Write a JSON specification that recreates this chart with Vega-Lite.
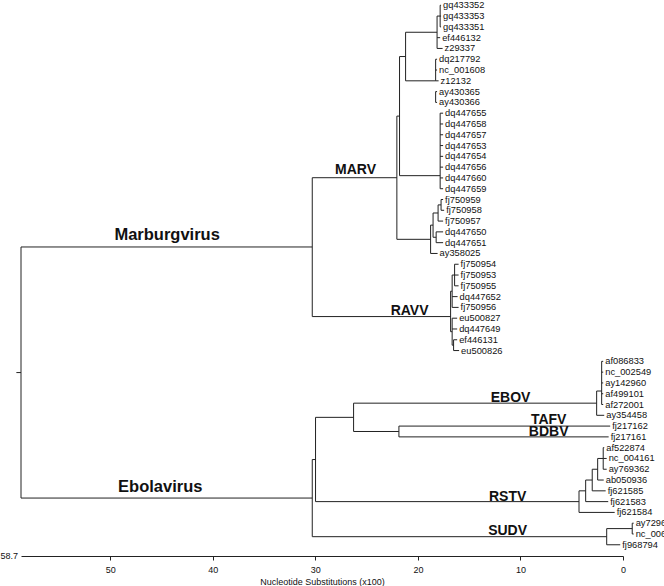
{
  "$schema": "https://vega.github.io/schema/vega-lite/v6.json",
  "width": 602,
  "height": 556,
  "autosize": {"type": "none"},
  "padding": {"left": 21, "top": 0, "right": 41, "bottom": 30},
  "background": "white",
  "config": {
    "view": {"stroke": null},
    "axisX": {"grid": false,
              "tickSize": 4, "tickColor": "#222", "domainColor": "#222",
              "labelFont": "Liberation Sans", "labelFontSize": 9, "labelColor": "#111",
              "labelPadding": 5, "labelFlush": false,
              "titleFont": "Liberation Sans", "titleFontSize": 9, "titleFontWeight": "normal",
              "titleColor": "#111", "titlePadding": 3}
  },
  "datasets": {
    "edges": [
      {"x1": 59.15, "x2": 58.70, "y1": 34.04, "y2": 34.04},
      {"x1": 58.70, "x2": 58.70, "y1": 22.4, "y2": 45.67},
      {"x1": 58.70, "x2": 30.30, "y1": 22.4, "y2": 22.4},
      {"x1": 58.70, "x2": 30.30, "y1": 45.67, "y2": 45.67},
      {"x1": 30.30, "x2": 30.30, "y1": 15.98, "y2": 28.85},
      {"x1": 30.30, "x2": 22.05, "y1": 15.98, "y2": 15.98},
      {"x1": 30.30, "x2": 16.81, "y1": 28.85, "y2": 28.85},
      {"x1": 22.05, "x2": 22.05, "y1": 10.27, "y2": 21.69},
      {"x1": 22.05, "x2": 21.79, "y1": 10.27, "y2": 10.27},
      {"x1": 22.05, "x2": 18.76, "y1": 21.69, "y2": 21.69},
      {"x1": 21.79, "x2": 21.79, "y1": 4.75, "y2": 15.79},
      {"x1": 21.79, "x2": 21.20, "y1": 4.75, "y2": 4.75},
      {"x1": 21.79, "x2": 17.83, "y1": 15.79, "y2": 15.79},
      {"x1": 21.20, "x2": 21.20, "y1": 2.5, "y2": 7},
      {"x1": 21.20, "x2": 18.13, "y1": 2.5, "y2": 2.5},
      {"x1": 21.20, "x2": 18.27, "y1": 7, "y2": 7},
      {"x1": 18.13, "x2": 18.13, "y1": 1, "y2": 4},
      {"x1": 18.13, "x2": 17.83, "y1": 1, "y2": 1},
      {"x1": 17.83, "x2": 17.83, "y1": 0, "y2": 2},
      {"x1": 17.83, "x2": 17.74, "y1": 0, "y2": 0},
      {"x1": 17.83, "x2": 17.74, "y1": 1, "y2": 1},
      {"x1": 17.83, "x2": 17.74, "y1": 2, "y2": 2},
      {"x1": 18.13, "x2": 17.83, "y1": 3, "y2": 3},
      {"x1": 18.13, "x2": 17.59, "y1": 4, "y2": 4},
      {"x1": 18.27, "x2": 18.27, "y1": 5, "y2": 7},
      {"x1": 18.27, "x2": 18.13, "y1": 5, "y2": 5},
      {"x1": 18.27, "x2": 18.13, "y1": 6, "y2": 6},
      {"x1": 18.27, "x2": 17.98, "y1": 7, "y2": 7},
      {"x1": 18.27, "x2": 18.27, "y1": 8, "y2": 9},
      {"x1": 18.27, "x2": 18.13, "y1": 8, "y2": 8},
      {"x1": 18.27, "x2": 18.13, "y1": 9, "y2": 9},
      {"x1": 17.83, "x2": 17.83, "y1": 10, "y2": 17},
      {"x1": 17.83, "x2": 17.54, "y1": 10, "y2": 10},
      {"x1": 17.83, "x2": 17.54, "y1": 11, "y2": 11},
      {"x1": 17.83, "x2": 17.54, "y1": 12, "y2": 12},
      {"x1": 17.83, "x2": 17.54, "y1": 13, "y2": 13},
      {"x1": 17.83, "x2": 17.54, "y1": 14, "y2": 14},
      {"x1": 17.83, "x2": 17.54, "y1": 15, "y2": 15},
      {"x1": 17.83, "x2": 17.54, "y1": 16, "y2": 16},
      {"x1": 17.83, "x2": 17.54, "y1": 17, "y2": 17},
      {"x1": 18.76, "x2": 18.76, "y1": 20.375, "y2": 23},
      {"x1": 18.76, "x2": 18.52, "y1": 20.375, "y2": 20.375},
      {"x1": 18.52, "x2": 18.52, "y1": 19.25, "y2": 21.5},
      {"x1": 18.52, "x2": 18.03, "y1": 19.25, "y2": 19.25},
      {"x1": 18.52, "x2": 18.22, "y1": 21.5, "y2": 21.5},
      {"x1": 18.03, "x2": 18.03, "y1": 18.5, "y2": 20},
      {"x1": 18.03, "x2": 17.74, "y1": 18.5, "y2": 18.5},
      {"x1": 17.74, "x2": 17.74, "y1": 18, "y2": 19},
      {"x1": 17.74, "x2": 17.54, "y1": 18, "y2": 18},
      {"x1": 17.74, "x2": 17.44, "y1": 19, "y2": 19},
      {"x1": 18.03, "x2": 17.54, "y1": 20, "y2": 20},
      {"x1": 18.22, "x2": 18.22, "y1": 21, "y2": 22},
      {"x1": 18.22, "x2": 17.54, "y1": 21, "y2": 21},
      {"x1": 18.22, "x2": 17.54, "y1": 22, "y2": 22},
      {"x1": 18.76, "x2": 18.08, "y1": 23, "y2": 23},
      {"x1": 16.81, "x2": 16.81, "y1": 26.5, "y2": 30.25},
      {"x1": 16.81, "x2": 16.66, "y1": 26.5, "y2": 26.5},
      {"x1": 16.81, "x2": 16.66, "y1": 30.25, "y2": 30.25},
      {"x1": 16.66, "x2": 16.66, "y1": 25, "y2": 28},
      {"x1": 16.66, "x2": 16.42, "y1": 25, "y2": 25},
      {"x1": 16.42, "x2": 16.42, "y1": 24, "y2": 26},
      {"x1": 16.42, "x2": 16.03, "y1": 24, "y2": 24},
      {"x1": 16.42, "x2": 16.03, "y1": 25, "y2": 25},
      {"x1": 16.42, "x2": 16.03, "y1": 26, "y2": 26},
      {"x1": 16.66, "x2": 16.13, "y1": 27, "y2": 27},
      {"x1": 16.66, "x2": 16.03, "y1": 28, "y2": 28},
      {"x1": 16.66, "x2": 16.66, "y1": 29, "y2": 31.5},
      {"x1": 16.66, "x2": 16.17, "y1": 29, "y2": 29},
      {"x1": 16.66, "x2": 16.17, "y1": 30, "y2": 30},
      {"x1": 16.66, "x2": 16.52, "y1": 31.5, "y2": 31.5},
      {"x1": 16.52, "x2": 16.52, "y1": 31, "y2": 32},
      {"x1": 16.52, "x2": 16.17, "y1": 31, "y2": 31},
      {"x1": 16.52, "x2": 15.98, "y1": 32, "y2": 32},
      {"x1": 30.30, "x2": 30.30, "y1": 42.1, "y2": 49.25},
      {"x1": 30.30, "x2": 29.98, "y1": 42.1, "y2": 42.1},
      {"x1": 30.30, "x2": 1.59, "y1": 49.25, "y2": 49.25},
      {"x1": 29.98, "x2": 29.98, "y1": 38.19, "y2": 46},
      {"x1": 29.98, "x2": 26.27, "y1": 38.19, "y2": 38.19},
      {"x1": 29.98, "x2": 4.29, "y1": 46, "y2": 46},
      {"x1": 26.27, "x2": 26.27, "y1": 36.875, "y2": 39.5},
      {"x1": 26.27, "x2": 2.57, "y1": 36.875, "y2": 36.875},
      {"x1": 26.27, "x2": 21.85, "y1": 39.5, "y2": 39.5},
      {"x1": 21.85, "x2": 21.85, "y1": 39, "y2": 40},
      {"x1": 21.85, "x2": 1.25, "y1": 39, "y2": 39},
      {"x1": 21.85, "x2": 1.40, "y1": 40, "y2": 40},
      {"x1": 2.57, "x2": 2.57, "y1": 35.75, "y2": 38},
      {"x1": 2.57, "x2": 2.08, "y1": 35.75, "y2": 35.75},
      {"x1": 2.08, "x2": 2.08, "y1": 33, "y2": 37},
      {"x1": 2.08, "x2": 1.93, "y1": 33, "y2": 33},
      {"x1": 2.08, "x2": 1.93, "y1": 34, "y2": 34},
      {"x1": 2.08, "x2": 1.93, "y1": 35, "y2": 35},
      {"x1": 2.08, "x2": 1.93, "y1": 36, "y2": 36},
      {"x1": 2.08, "x2": 1.93, "y1": 37, "y2": 37},
      {"x1": 2.57, "x2": 1.83, "y1": 38, "y2": 38},
      {"x1": 4.29, "x2": 4.29, "y1": 45, "y2": 47},
      {"x1": 4.29, "x2": 3.64, "y1": 45, "y2": 45},
      {"x1": 4.29, "x2": 0.81, "y1": 47, "y2": 47},
      {"x1": 3.64, "x2": 3.64, "y1": 44, "y2": 46},
      {"x1": 3.64, "x2": 3.00, "y1": 44, "y2": 44},
      {"x1": 3.64, "x2": 1.44, "y1": 46, "y2": 46},
      {"x1": 3.00, "x2": 3.00, "y1": 43, "y2": 45},
      {"x1": 3.00, "x2": 2.47, "y1": 43, "y2": 43},
      {"x1": 3.00, "x2": 1.69, "y1": 45, "y2": 45},
      {"x1": 2.47, "x2": 2.47, "y1": 42, "y2": 44},
      {"x1": 2.47, "x2": 1.93, "y1": 42, "y2": 42},
      {"x1": 2.47, "x2": 1.88, "y1": 44, "y2": 44},
      {"x1": 1.93, "x2": 1.93, "y1": 41, "y2": 43},
      {"x1": 1.93, "x2": 1.83, "y1": 41, "y2": 41},
      {"x1": 1.93, "x2": 1.59, "y1": 42, "y2": 42},
      {"x1": 1.93, "x2": 1.59, "y1": 43, "y2": 43},
      {"x1": 1.59, "x2": 1.59, "y1": 48.5, "y2": 50},
      {"x1": 1.59, "x2": -0.90, "y1": 48.5, "y2": 48.5},
      {"x1": 1.59, "x2": 0.27, "y1": 50, "y2": 50},
      {"x1": -0.90, "x2": -0.90, "y1": 48, "y2": 49},
      {"x1": -0.90, "x2": -1.04, "y1": 48, "y2": 48},
      {"x1": -0.90, "x2": -1.04, "y1": 49, "y2": 49}
    ],
    "leaves": [
      {"name": "gq433352", "row": 0, "tip": 17.74},
      {"name": "gq433353", "row": 1, "tip": 17.74},
      {"name": "gq433351", "row": 2, "tip": 17.74},
      {"name": "ef446132", "row": 3, "tip": 17.83},
      {"name": "z29337", "row": 4, "tip": 17.59},
      {"name": "dq217792", "row": 5, "tip": 18.13},
      {"name": "nc_001608", "row": 6, "tip": 18.13},
      {"name": "z12132", "row": 7, "tip": 17.98},
      {"name": "ay430365", "row": 8, "tip": 18.13},
      {"name": "ay430366", "row": 9, "tip": 18.13},
      {"name": "dq447655", "row": 10, "tip": 17.54},
      {"name": "dq447658", "row": 11, "tip": 17.54},
      {"name": "dq447657", "row": 12, "tip": 17.54},
      {"name": "dq447653", "row": 13, "tip": 17.54},
      {"name": "dq447654", "row": 14, "tip": 17.54},
      {"name": "dq447656", "row": 15, "tip": 17.54},
      {"name": "dq447660", "row": 16, "tip": 17.54},
      {"name": "dq447659", "row": 17, "tip": 17.54},
      {"name": "fj750959", "row": 18, "tip": 17.54},
      {"name": "fj750958", "row": 19, "tip": 17.44},
      {"name": "fj750957", "row": 20, "tip": 17.54},
      {"name": "dq447650", "row": 21, "tip": 17.54},
      {"name": "dq447651", "row": 22, "tip": 17.54},
      {"name": "ay358025", "row": 23, "tip": 18.08},
      {"name": "fj750954", "row": 24, "tip": 16.03},
      {"name": "fj750953", "row": 25, "tip": 16.03},
      {"name": "fj750955", "row": 26, "tip": 16.03},
      {"name": "dq447652", "row": 27, "tip": 16.13},
      {"name": "fj750956", "row": 28, "tip": 16.03},
      {"name": "eu500827", "row": 29, "tip": 16.17},
      {"name": "dq447649", "row": 30, "tip": 16.17},
      {"name": "ef446131", "row": 31, "tip": 16.17},
      {"name": "eu500826", "row": 32, "tip": 15.98},
      {"name": "af086833", "row": 33, "tip": 1.93},
      {"name": "nc_002549", "row": 34, "tip": 1.93},
      {"name": "ay142960", "row": 35, "tip": 1.93},
      {"name": "af499101", "row": 36, "tip": 1.93},
      {"name": "af272001", "row": 37, "tip": 1.93},
      {"name": "ay354458", "row": 38, "tip": 1.83},
      {"name": "fj217162", "row": 39, "tip": 1.25},
      {"name": "fj217161", "row": 40, "tip": 1.40},
      {"name": "af522874", "row": 41, "tip": 1.83},
      {"name": "nc_004161", "row": 42, "tip": 1.59},
      {"name": "ay769362", "row": 43, "tip": 1.59},
      {"name": "ab050936", "row": 44, "tip": 1.88},
      {"name": "fj621585", "row": 45, "tip": 1.69},
      {"name": "fj621583", "row": 46, "tip": 1.44},
      {"name": "fj621584", "row": 47, "tip": 0.81},
      {"name": "ay729654", "row": 48, "tip": -1.04},
      {"name": "nc_006432", "row": 49, "tip": -1.04},
      {"name": "fj968794", "row": 50, "tip": 0.27}
    ],
    "genera": [
      {"label": "Marburgvirus", "x": 44.45, "y": 21.75},
      {"label": "Ebolavirus", "x": 45.12, "y": 45.1}
    ],
    "species": [
      {"label": "MARV", "x": 26.08, "y": 15.59},
      {"label": "RAVV", "x": 20.81, "y": 28.75},
      {"label": "EBOV", "x": 10.96, "y": 36.74},
      {"label": "TAFV", "x": 7.25, "y": 38.8},
      {"label": "BDBV", "x": 7.25, "y": 39.92},
      {"label": "RSTV", "x": 11.25, "y": 45.91},
      {"label": "SUDV", "x": 11.25, "y": 49.14}
    ],
    "rootnote": [
      {"label": "58.7", "x": 58.7, "y": 51.04}
    ]
  },
  "layer": [
    {
      "data": {"name": "edges"},
      "mark": {"type": "rule", "color": "#222", "strokeWidth": 1},
      "encoding": {
        "x": {"field": "x1", "type": "quantitative",
              "scale": {"domain": [0, 58.7], "reverse": true, "nice": false, "zero": false},
              "axis": {"values": [50, 40, 30, 20, 10, 0], "format": "d"},
              "title": "Nucleotide Substitutions (x100)"},
        "x2": {"field": "x2"},
        "y": {"field": "y1", "type": "quantitative",
              "scale": {"domain": [-0.49, 51.04], "reverse": true, "nice": false, "zero": false},
              "axis": null},
        "y2": {"field": "y2"}
      }
    },
    {
      "data": {"name": "leaves"},
      "mark": {"type": "text", "align": "left", "baseline": "middle", "dx": 2,
               "font": "Liberation Sans", "fontSize": 9.3, "color": "#111"},
      "encoding": {
        "x": {"field": "tip", "type": "quantitative",
              "scale": {"domain": [0, 58.7], "reverse": true, "nice": false, "zero": false},
              "axis": {"values": [50, 40, 30, 20, 10, 0], "format": "d"},
              "title": "Nucleotide Substitutions (x100)"},
        "y": {"field": "row", "type": "quantitative",
              "scale": {"domain": [-0.49, 51.04], "reverse": true, "nice": false, "zero": false}, "axis": null},
        "text": {"field": "name"}
      }
    },
    {
      "data": {"name": "genera"},
      "mark": {"type": "text", "align": "center", "baseline": "alphabetic",
               "font": "Liberation Sans", "fontSize": 16.5, "fontWeight": "bold", "color": "#111"},
      "encoding": {
        "x": {"field": "x", "type": "quantitative",
              "scale": {"domain": [0, 58.7], "reverse": true, "nice": false, "zero": false},
              "axis": {"values": [50, 40, 30, 20, 10, 0], "format": "d"},
              "title": "Nucleotide Substitutions (x100)"},
        "y": {"field": "y", "type": "quantitative",
              "scale": {"domain": [-0.49, 51.04], "reverse": true, "nice": false, "zero": false}, "axis": null},
        "text": {"field": "label"}
      }
    },
    {
      "data": {"name": "species"},
      "mark": {"type": "text", "align": "center", "baseline": "alphabetic",
               "font": "Liberation Sans", "fontSize": 14, "fontWeight": "bold", "color": "#111"},
      "encoding": {
        "x": {"field": "x", "type": "quantitative",
              "scale": {"domain": [0, 58.7], "reverse": true, "nice": false, "zero": false},
              "axis": {"values": [50, 40, 30, 20, 10, 0], "format": "d"},
              "title": "Nucleotide Substitutions (x100)"},
        "y": {"field": "y", "type": "quantitative",
              "scale": {"domain": [-0.49, 51.04], "reverse": true, "nice": false, "zero": false}, "axis": null},
        "text": {"field": "label"}
      }
    },
    {
      "data": {"name": "rootnote"},
      "mark": {"type": "text", "align": "right", "baseline": "middle", "dx": -3,
               "font": "Liberation Sans", "fontSize": 9, "color": "#111"},
      "encoding": {
        "x": {"field": "x", "type": "quantitative",
              "scale": {"domain": [0, 58.7], "reverse": true, "nice": false, "zero": false},
              "axis": {"values": [50, 40, 30, 20, 10, 0], "format": "d"},
              "title": "Nucleotide Substitutions (x100)"},
        "y": {"field": "y", "type": "quantitative",
              "scale": {"domain": [-0.49, 51.04], "reverse": true, "nice": false, "zero": false}, "axis": null},
        "text": {"field": "label"}
      }
    }
  ]
}
